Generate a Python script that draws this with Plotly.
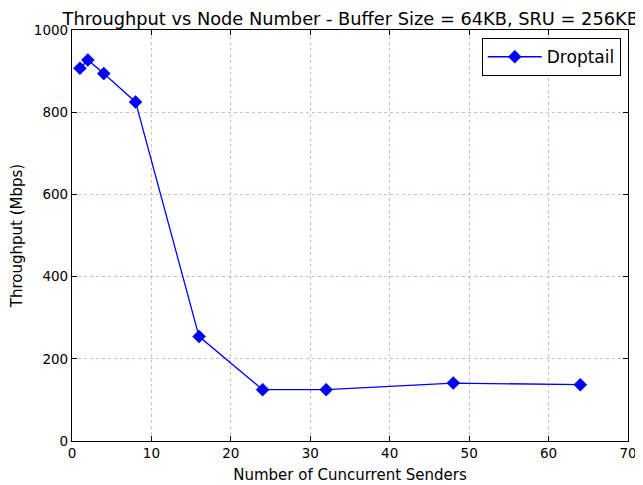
import plotly.graph_objects as go

senders = [1, 2, 4, 8, 16, 24, 32, 48, 64]
throughput = [907, 927, 894, 825, 254, 125, 125, 141, 137]
series_name = "Droptail"
x_ticks = [0, 10, 20, 30, 40, 50, 60, 70]
y_ticks = [0, 200, 400, 600, 800, 1000]

fig = go.Figure()
fig.add_trace(go.Scatter(
    x=senders, y=throughput, name=series_name, mode="lines+markers",
    line=dict(color="#0000ff", width=1.3),
    marker=dict(symbol="diamond", size=10, color="#0000ff", line=dict(color="#00007f", width=0.5)),
))

axis_common = dict(
    showline=True, linecolor="black", linewidth=1.2, mirror="allticks",
    ticks="inside", ticklen=5, tickcolor="black",
    showgrid=True, gridcolor="rgba(220,120,120,0.55)", griddash="dot", gridwidth=1,
    zeroline=False, automargin=False,
    tickfont=dict(family="DejaVu Sans", size=13.5, color="black"),
)

fig.update_layout(
    width=643, height=485,
    paper_bgcolor="white", plot_bgcolor="white",
    margin=dict(l=64, r=23, t=22, b=52, autoexpand=False),
    font=dict(family="DejaVu Sans", color="black"),
    title=dict(text="Throughput vs Node Number - Buffer Size = 64KB, SRU = 256KB",
               x=0.533, xanchor="center", y=0.978, yanchor="middle", automargin=False,
               font=dict(size=17.8, family="DejaVu Sans", color="black")),
    xaxis=dict(range=[0, 70], tickvals=x_ticks,
               title=dict(text="Number of Cuncurrent Senders", font=dict(size=15), standoff=9),
               **axis_common),
    yaxis=dict(range=[0, 1000], tickvals=y_ticks,
               title=dict(text="Throughput (Mbps)", font=dict(size=15), standoff=16),
               **axis_common),
    showlegend=True,
    legend=dict(x=0.987, y=0.98, xanchor="right", yanchor="top",
                bgcolor="white", bordercolor="black", borderwidth=1,
                itemwidth=54,
                font=dict(size=17, family="DejaVu Sans")),
)

fig.write_html("out.html")
